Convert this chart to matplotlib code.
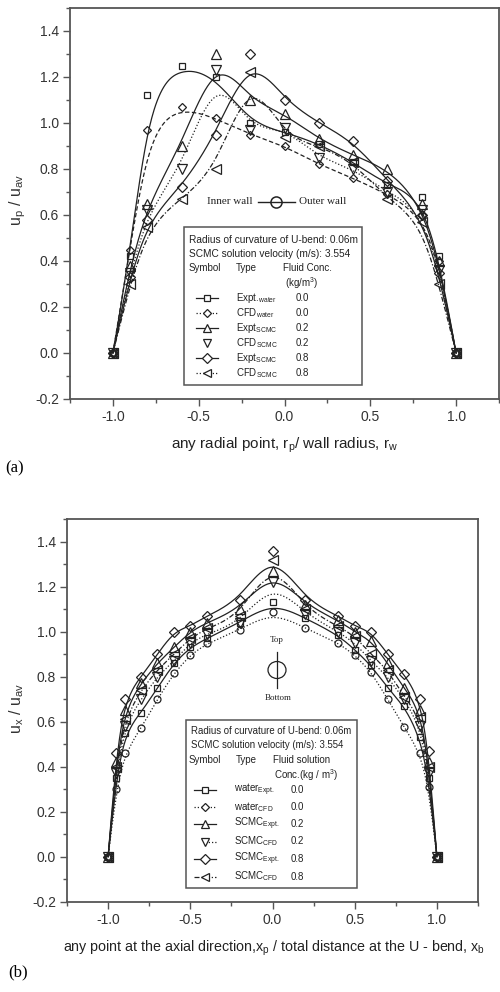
import numpy as np
import matplotlib
matplotlib.use("Agg")
import matplotlib.pyplot as plt
from matplotlib.lines import Line2D
from matplotlib.patches import Rectangle, Ellipse
from matplotlib.ticker import MultipleLocator

plt.rcParams["font.family"] = ["Liberation Sans", "DejaVu Sans"]
plt.rcParams["mathtext.default"] = "regular"

# ---------------- panel (a): radial velocity profile ----------------
xa = [-1.0, -0.9, -0.8, -0.6, -0.4, -0.2, 0.0, 0.2, 0.4, 0.6, 0.8, 0.9, 1.0]
a_water_expt = [0, 0.42, 1.12, 1.25, 1.20, 1.00, 0.96, 0.91, 0.83, 0.73, 0.68, 0.42, 0]
a_water_cfd = [0, 0.45, 0.97, 1.07, 1.02, 0.95, 0.90, 0.82, 0.76, 0.69, 0.60, 0.40, 0]
a_scmc02_expt = [0, 0.38, 0.65, 0.90, 1.30, 1.10, 1.04, 0.93, 0.86, 0.80, 0.65, 0.40, 0]
a_scmc02_cfd = [0, 0.35, 0.62, 0.80, 1.23, 0.97, 0.98, 0.85, 0.80, 0.70, 0.62, 0.36, 0]
a_scmc08_expt = [0, 0.33, 0.58, 0.72, 0.95, 1.30, 1.10, 1.00, 0.92, 0.75, 0.60, 0.35, 0]
a_scmc08_cfd = [0, 0.30, 0.55, 0.67, 0.80, 1.22, 0.94, 0.90, 0.83, 0.67, 0.57, 0.30, 0]

# ---------------- panel (b): axial velocity profile ----------------
xb = [-1.0, -0.95, -0.9, -0.8, -0.7, -0.6, -0.5, -0.4, -0.2, 0.0,
      0.2, 0.4, 0.5, 0.6, 0.7, 0.8, 0.9, 0.95, 1.0]
b_water_expt = [0, 0.35, 0.55, 0.64, 0.75, 0.86, 0.93, 0.97, 1.04, 1.13,
                1.06, 0.985, 0.92, 0.85, 0.75, 0.67, 0.53, 0.35, 0]
b_water_cfd = [0, 0.30, 0.46, 0.57, 0.70, 0.815, 0.896, 0.948, 1.007, 1.089,
               1.015, 0.951, 0.896, 0.822, 0.70, 0.578, 0.46, 0.31, 0]
b_scmc02_expt = [0, 0.42, 0.65, 0.77, 0.86, 0.93, 1.00, 1.04, 1.10, 1.27,
                 1.12, 1.05, 1.00, 0.96, 0.86, 0.75, 0.65, 0.42, 0]
b_scmc02_cfd = [0, 0.37, 0.58, 0.70, 0.80, 0.87, 0.95, 0.99, 1.04, 1.22,
                1.08, 1.00, 0.95, 0.87, 0.80, 0.70, 0.58, 0.37, 0]
b_scmc08_expt = [0, 0.46, 0.70, 0.80, 0.90, 1.00, 1.025, 1.07, 1.14, 1.36,
                 1.14, 1.07, 1.025, 1.00, 0.90, 0.81, 0.70, 0.47, 0]
b_scmc08_cfd = [0, 0.40, 0.61, 0.74, 0.83, 0.90, 0.97, 1.015, 1.07, 1.32,
                1.10, 1.025, 0.98, 0.90, 0.83, 0.71, 0.62, 0.40, 0]

xticks = [-1.0, -0.5, 0.0, 0.5, 1.0]
yticks = [-0.2, 0.0, 0.2, 0.4, 0.6, 0.8, 1.0, 1.2, 1.4]

INK = "#222222"
SPINE = "#555555"
SOLID = "-"
DASH = (0, (3.5, 2.0))
DOT = (0, (1.0, 1.6))
DASHDOT = (0, (4.0, 1.6, 1.0, 1.6))

W, H = 500, 992
fig = plt.figure(figsize=(W / 100, H / 100), dpi=100)


def fx(px):
    return px / W


def fy(py):
    return 1 - py / H


def bspline(xs, ys, n=400, k=3):
    """Clamped cubic B-spline using the data points as control points."""
    pts = np.column_stack([xs, ys]).astype(float)
    m = len(pts)
    inner = np.linspace(0.0, 1.0, m - k + 1)
    knots = np.concatenate([np.zeros(k), inner, np.ones(k)])
    t = np.linspace(0.0, 1.0 - 1e-10, n)
    B = np.array([(knots[i] <= t) & (t < knots[i + 1])
                  for i in range(len(knots) - 1)], dtype=float).T
    for d in range(1, k + 1):
        nb = len(knots) - 1 - d
        Bn = np.zeros((len(t), nb))
        for i in range(nb):
            a = knots[i + d] - knots[i]
            b = knots[i + d + 1] - knots[i + 1]
            if a > 0:
                Bn[:, i] += (t - knots[i]) / a * B[:, i]
            if b > 0:
                Bn[:, i] += (knots[i + d + 1] - t) / b * B[:, i + 1]
        B = Bn
    c = B @ pts
    cx = np.append(c[:, 0], pts[-1, 0])
    cy = np.append(c[:, 1], pts[-1, 1])
    return cx, cy


def style_axes(ax):
    ax.set_xlim(-1.25, 1.25)
    ax.set_ylim(-0.2, 1.5)
    ax.set_xticks(xticks)
    ax.set_xticklabels([f"{v:.1f}" for v in xticks])
    ax.set_yticks(yticks)
    ax.set_yticklabels([f"{v:.1f}" for v in yticks])
    ax.xaxis.set_minor_locator(MultipleLocator(0.25))
    ax.yaxis.set_minor_locator(MultipleLocator(0.1))
    ax.tick_params(which="both", direction="out", color=SPINE, width=1.0,
                   top=False, right=False)
    ax.tick_params(which="major", length=5, labelsize=10, labelcolor="#333333", pad=3)
    ax.tick_params(which="minor", length=3)
    for s in ax.spines.values():
        s.set_color(SPINE)
        s.set_linewidth(1.3)


def draw_series(ax, xs, ys, marker, ms, ls, mew=0.9):
    cx, cy = bspline(xs, ys)
    ax.plot(cx, cy, color=INK, lw=0.9, ls=ls)
    ax.plot(xs, ys, ls="none", marker=marker, ms=ms, mfc="none",
            mec=INK, mew=mew)


def legend_symbol(xc, y, ls, marker, ms, x0=None, x1=None):
    x0 = xc - 11 if x0 is None else x0
    x1 = xc + 11 if x1 is None else x1
    if ls is not None:
        fig.add_artist(Line2D([fx(x0), fx(x1)], [fy(y), fy(y)],
                              transform=fig.transFigure, color=INK, lw=0.9, ls=ls))
    fig.add_artist(Line2D([fx(xc)], [fy(y)], transform=fig.transFigure,
                          ls="none", marker=marker, ms=ms, mfc="white",
                          mec=INK, mew=0.9))


def ftext(px, py, s, size=7.0, **kw):
    kw.setdefault("ha", "left")
    kw.setdefault("va", "center")
    kw.setdefault("color", INK)
    fig.text(fx(px), fy(py), s, fontsize=size, **kw)


# ======================= panel (a) =======================
axa = fig.add_axes([fx(70), fy(399), 429 / W, 391 / H])
style_axes(axa)
draw_series(axa, xa, a_water_expt, "s", 5, SOLID)
draw_series(axa, xa, a_water_cfd, "D", 4.2, DASH)
draw_series(axa, xa, a_scmc02_expt, "^", 6.5, SOLID)
draw_series(axa, xa, a_scmc02_cfd, "v", 6.5, DOT)
draw_series(axa, xa, a_scmc08_expt, "D", 5.5, SOLID)
draw_series(axa, xa, a_scmc08_cfd, "<", 6.5, DASHDOT)

fig.text(fx(18), fy(200), r"u$_{p}$ / u$_{av}$", rotation=90, fontsize=11.5,
         ha="center", va="center", color="#333333")
fig.text(fx(285), fy(445), r"any radial point, r$_{p}$/ wall radius, r$_{w}$",
         fontsize=11, ha="center", va="center", color="#222222")
fig.text(fx(5), fy(468), "(a)", fontsize=12, family="Liberation Serif",
         ha="left", va="center", color="black")

# inner / outer wall key
ftext(207, 202, "Inner wall", size=8, family="Liberation Serif")
fig.add_artist(Line2D([fx(258), fx(295)], [fy(202), fy(202)],
                      transform=fig.transFigure, color=INK, lw=1.0))
fig.add_artist(Line2D([fx(276)], [fy(202)], transform=fig.transFigure, ls="none",
                      marker="o", ms=8, mfc="none", mec=INK, mew=1.1))
ftext(299, 202, "Outer wall", size=8, family="Liberation Serif")

# info box
fig.add_artist(Rectangle((fx(184), fy(385)), (362 - 184) / W, (385 - 227) / H,
                         transform=fig.transFigure, fill=True, fc="white",
                         ec=SPINE, lw=1.1))
ftext(189, 240, "Radius of curvature of U-bend: 0.06m", size=7.3)
ftext(189, 254, "SCMC solution velocity (m/s): 3.554", size=7.3)
ftext(189, 268, "Symbol")
ftext(236, 268, "Type")
ftext(283, 268, "Fluid Conc.")
ftext(302, 283, r"(kg/m$^{3}$)", ha="center")
rows_a = [298, 313, 328, 343, 358, 373]
types_a = [r"Expt.$_{water}$", r"CFD$_{water}$", r"Expt$_{SCMC}$",
           r"CFD$_{SCMC}$", r"Expt$_{SCMC}$", r"CFD$_{SCMC}$"]
conc_a = ["0.0", "0.0", "0.2", "0.2", "0.8", "0.8"]
sym_a = [("s", 4.5, SOLID), ("D", 4, DOT), ("^", 5.5, SOLID),
         ("v", 5.5, None), ("D", 5, SOLID), ("<", 5.5, DOT)]
for y, t, c, (mk, ms, ls) in zip(rows_a, types_a, conc_a, sym_a):
    legend_symbol(207, y, ls, mk, ms)
    ftext(236, y, t)
    ftext(302, y, c, ha="center")

# ======================= panel (b) =======================
axb = fig.add_axes([fx(67), fy(901.7), 411 / W, 382.5 / H])
style_axes(axb)
draw_series(axb, xb, b_water_expt, "s", 5, SOLID)
draw_series(axb, xb, b_water_cfd, "o", 5, DOT)
draw_series(axb, xb, b_scmc02_expt, "^", 6.5, SOLID)
draw_series(axb, xb, b_scmc02_cfd, "v", 6.5, DOT)
draw_series(axb, xb, b_scmc08_expt, "D", 5.5, SOLID)
draw_series(axb, xb, b_scmc08_cfd, "<", 6.5, DASHDOT)

fig.text(fx(17), fy(708), r"u$_{x}$ / u$_{av}$", rotation=90, fontsize=11.5,
         ha="center", va="center", color="#333333")
fig.text(fx(274), fy(948),
         r"any point at the axial direction,x$_{p}$ / total distance at the U - bend, x$_{b}$",
         fontsize=10.3, ha="center", va="center", color="#222222")
fig.text(fx(8), fy(972), "(b)", fontsize=12, family="Liberation Serif",
         ha="left", va="center", color="black")

# top / bottom orientation sketch
ftext(277, 640, "Top", size=6.5, family="Liberation Serif", ha="center")
fig.add_artist(Line2D([fx(277), fx(277)], [fy(652), fy(688)],
                      transform=fig.transFigure, color=INK, lw=0.9))
fig.add_artist(Ellipse((fx(277), fy(670)), 18 / W, 17 / H,
                       transform=fig.transFigure, fill=False, ec=INK, lw=0.9))
ftext(278, 698, "Bottom", size=6.5, family="Liberation Serif", ha="center")

# info box
fig.add_artist(Rectangle((fx(186), fy(888)), (357 - 186) / W, (888 - 720) / H,
                         transform=fig.transFigure, fill=True, fc="white",
                         ec=SPINE, lw=1.1))
ftext(191, 731, "Radius of curvature of U-bend: 0.06m", size=6.9)
ftext(191, 745, "SCMC solution velocity (m/s): 3.554", size=6.9)
ftext(189, 760, "Symbol")
ftext(236, 760, "Type")
ftext(273, 760, "Fluid solution")
ftext(274, 775, r"Conc.(kg / m$^{3}$)")
rows_b = [790, 807, 824, 841.5, 859, 876.5]
types_b = [r"water$_{Expt.}$", r"water$_{CFD}$", r"SCMC$_{Expt.}$",
           r"SCMC$_{CFD}$", r"SCMC$_{Expt.}$", r"SCMC$_{CFD}$"]
conc_b = ["0.0", "0.0", "0.2", "0.2", "0.8", "0.8"]
sym_b = [("s", 4.5, SOLID, None), ("D", 4, DOT, None), ("^", 5.5, SOLID, None),
         ("v", 5.5, DOT, 205), ("D", 5, SOLID, None), ("<", 5.5, DASHDOT, None)]
for y, t, c, (mk, ms, ls, x0) in zip(rows_b, types_b, conc_b, sym_b):
    legend_symbol(205, y, ls, mk, ms, x0=x0)
    ftext(234, y, t)
    ftext(297, y, c, ha="center")

fig.savefig("out.png", dpi=100, facecolor="white")
